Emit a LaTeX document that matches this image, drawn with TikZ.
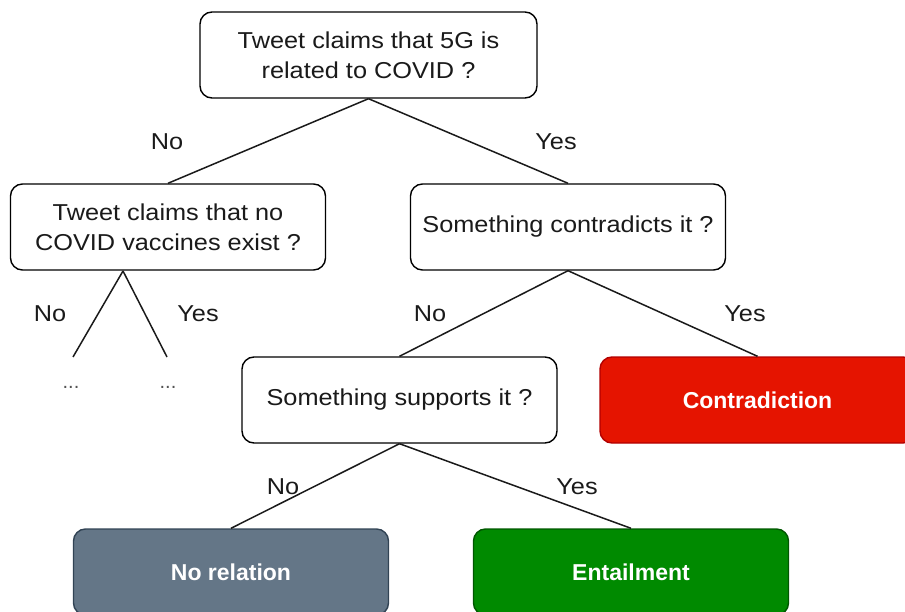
\documentclass[tikz,border=0pt]{standalone}
\usepackage{fontspec}
\setmainfont{Liberation Sans}
\newfontfamily\widesans[FakeStretch=1.1]{Liberation Sans}
\definecolor{txt}{HTML}{1A1A1A}
\definecolor{redfill}{HTML}{E51400}
\definecolor{redline}{HTML}{B20000}
\definecolor{grayfill}{HTML}{647687}
\definecolor{grayline}{HTML}{314354}
\definecolor{greenfill}{HTML}{008A00}
\definecolor{greenline}{HTML}{005700}
\begin{document}
\begin{tikzpicture}[x=1pt,y=-1pt,
  box/.style={draw=black, line width=1.4pt, rounded corners=12pt, fill=white,
    minimum width=315pt, minimum height=86pt, align=center,
    font=\widesans\fontsize{23}{30}\selectfont, text=txt, inner sep=0pt},
  result/.style={box, text=white, font=\fontsize{23}{30}\selectfont\bfseries},
  link/.style={line width=1.5pt, draw=txt},
  answer/.style={font=\widesans\fontsize{23}{26}\selectfont, text=txt, inner sep=0pt},
  dots/.style={font=\fontsize{20}{22}\selectfont, text=txt!75, inner sep=0pt, anchor=base}]
\useasboundingbox (0,0) rectangle (905,612);

% question nodes
\node[box, minimum width=337pt] (q1) at (368.5,55) {Tweet claims that 5G is\\related to COVID ?};
\node[box] (q2) at (168,227) {Tweet claims that no\\COVID vaccines exist ?};
\node[box] (q3) at (568,227) {Something contradicts it ?};
\node[box] (q4) at (399.5,400) {Something supports it ?};

% outcome nodes
\node[result, fill=redfill, draw=redline] (r1) at (757.5,400) {Contradiction};
\node[result, fill=grayfill, draw=grayline] (r2) at (231,572) {No relation};
\node[result, fill=greenfill, draw=greenline] (r3) at (631,572) {Entailment};

% unexpanded branch under q2
\coordinate (fork) at (123,271);
\coordinate (e1) at (73,357);
\coordinate (e2) at (167,357);
\node[dots] (d1) at (71,388) {...};
\node[dots] (d2) at (168,388) {...};

% connectors
\draw[link] (q1.south) -- (q2.north);
\draw[link] (q1.south) -- (q3.north);
\draw[link] (q3.south) -- (q4.north);
\draw[link] (q3.south) -- (r1.north);
\draw[link] (q4.south) -- (r2.north);
\draw[link] (q4.south) -- (r3.north);
\draw[link] (fork) -- (e1);
\draw[link] (fork) -- (e2);

% branch labels
\node[answer] (l1) at (167,142) {No};
\node[answer] (l2) at (556,142) {Yes};
\node[answer] (l3) at (50,314) {No};
\node[answer] (l4) at (198,314) {Yes};
\node[answer] (l5) at (430,314) {No};
\node[answer] (l6) at (745,314) {Yes};
\node[answer] (l7) at (283,487) {No};
\node[answer] (l8) at (577,487) {Yes};
\end{tikzpicture}
\end{document}
